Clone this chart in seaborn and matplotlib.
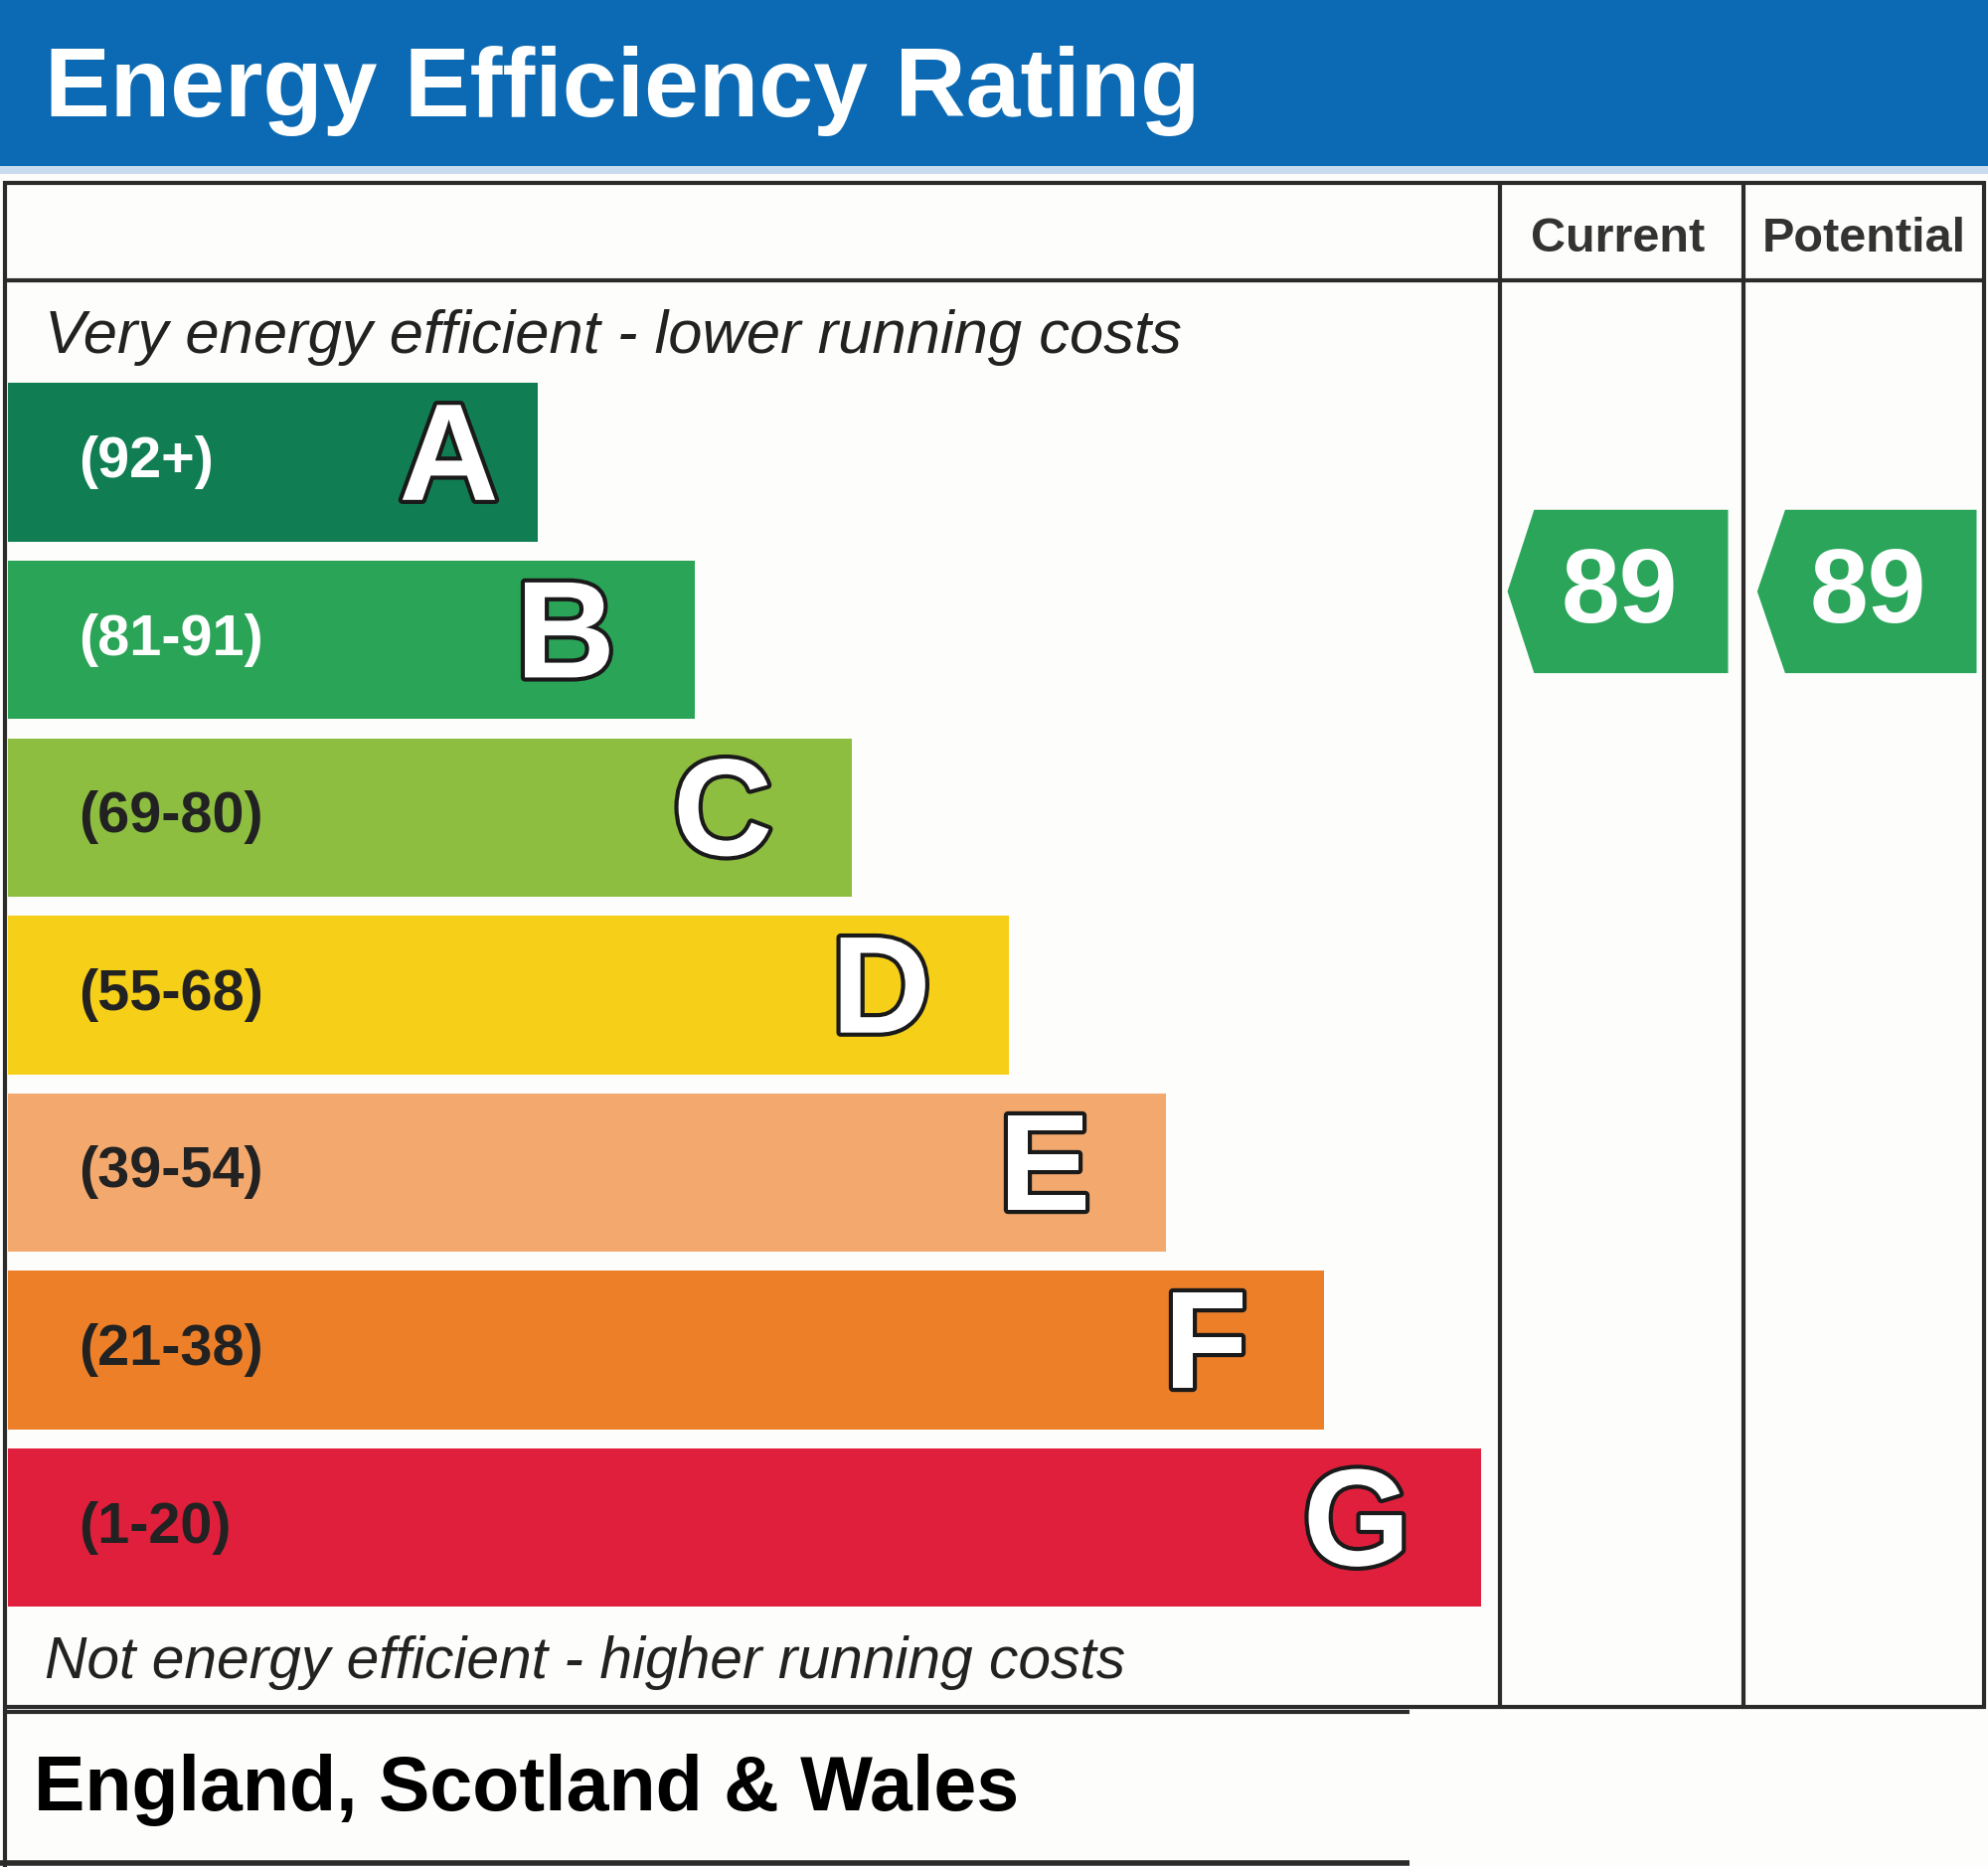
import pandas as pd
import matplotlib.pyplot as plt
import matplotlib.patheffects as pe
from matplotlib.patches import Rectangle, Polygon
import seaborn as sns

sns.set_style("white")
plt.rcParams['font.family'] = ['Liberation Sans', 'DejaVu Sans']

# Datos del certificado
bands = ["A", "B", "C", "D", "E", "F", "G"]
band_labels = ["(92+)", "(81-91)", "(69-80)", "(55-68)", "(39-54)", "(21-38)", "(1-20)"]
band_lows = [92, 81, 69, 55, 39, 21, 1]
band_highs = [100, 91, 80, 68, 54, 38, 20]
band_colors = ["#107e52", "#2aa456", "#8dbe40", "#f6cf18", "#f3a86d", "#ec7f28", "#e01f3c"]
score_columns = ["Current", "Potential"]
scores = [89, 89]

# Medidas del lienzo (en px de referencia 1568 x 1472)
W, H = 1568, 1472
X0 = 6
BAR_FIRST, BAR_STEP = 418, 124
Y_TOP, Y_BOT = 294.5, 1274.5
LINE = "#2b2b2b"
LW = 3


def score_y(score):
    # posición continua dentro de la banda
    for i, (lo, hi) in enumerate(zip(band_lows, band_highs)):
        if lo <= score <= hi:
            mid = (lo + hi) / 2
            return i - (score - mid) / (hi - lo + 1)
    return len(bands) - 1


fig = plt.figure(figsize=(20, 18.78), dpi=100)
fig.patch.set_facecolor("#fdfdfb")

# Marco y textos
frame = fig.add_axes([0, 0, 1, 1], zorder=0)
frame.set_xlim(0, W)
frame.set_ylim(H, 0)
frame.axis("off")
frame.add_patch(Rectangle((0, 0), W, 131, color="#0b6ab3", lw=0))
frame.add_patch(Rectangle((0, 131), W, 6, color="#c9dcef", lw=0))
frame.text(35, 92, "Energy Efficiency Rating", color="white", fontsize=71,
           fontweight="bold", ha="left", va="baseline")

for y in [144, 221, 1346]:
    frame.plot([3, 1566], [y, y], color=LINE, lw=LW, solid_capstyle="butt")
frame.plot([3, 1112], [1350, 1350], color=LINE, lw=LW, solid_capstyle="butt")
frame.plot([0, 1112], [1469, 1469], color=LINE, lw=LW + 1, solid_capstyle="butt")
frame.plot([4, 4], [143, 1472], color=LINE, lw=LW, solid_capstyle="butt")
for x in [1183, 1375, 1565]:
    frame.plot([x, x], [143, 1347], color=LINE, lw=LW, solid_capstyle="butt")

frame.text(1276, 198, score_columns[0], color="#333333", fontsize=35,
           fontweight="bold", ha="center", va="baseline")
frame.text(1470, 198, score_columns[1], color="#333333", fontsize=35,
           fontweight="bold", ha="center", va="baseline")

frame.text(35, 278, "Very energy efficient - lower running costs", color="#222222",
           fontsize=44.3, fontstyle="italic", ha="left", va="baseline")
frame.text(35, 1323, "Not energy efficient - higher running costs", color="#222222",
           fontsize=42.3, fontstyle="italic", ha="left", va="baseline")
frame.text(27, 1427, "England, Scotland & Wales", color="black", fontsize=55.5,
           fontweight="bold", ha="left", va="baseline")

# Barras de bandas
ax = fig.add_axes([0, 1 - Y_BOT / H, 1, (Y_BOT - Y_TOP) / H], zorder=1)
ax.patch.set_alpha(0)
df = pd.DataFrame({
    "band": bands,
    "length": [BAR_FIRST + BAR_STEP * i for i in range(len(bands))],
})
sns.barplot(data=df, x="length", y="band", hue="band", palette=band_colors,
            orient="h", width=0.893, saturation=1, legend=False,
            linewidth=0, ax=ax)
ax.set_xlim(-X0, W - X0)
ax.set_ylim(len(bands) - 0.5, -0.5)
ax.axis("off")

outline = [pe.withStroke(linewidth=6, foreground="#1a1a1a")]
letter_inset = {"A": 70, "B": 102, "C": 102, "D": 101, "E": 96, "F": 93, "G": 98}
for i, (b, lab) in enumerate(zip(bands, band_labels)):
    end = df["length"][i]
    txt_color = "white" if i < 2 else "#222222"
    ax.text(56, i, lab, color=txt_color, fontsize=41.5, fontweight="bold",
            ha="left", va="center")
    ax.text(end - letter_inset[b], i + 0.01, b, color="white", fontsize=100,
            fontweight="bold", ha="center", va="center", path_effects=outline)

# Flechas de puntuación
arrow_h = 0.46
for (left, tip, right), val in zip([(1204, 1183, 1357), (1402, 1380, 1553)], scores):
    yc = score_y(val)
    pts = [(tip, yc), (left, yc - arrow_h), (right, yc - arrow_h),
           (right, yc + arrow_h), (left, yc + arrow_h)]
    ax.add_patch(Polygon(pts, closed=True, color="#2aa55a", lw=0))
    ax.text((tip + right) / 2 + 1, yc + 0.02, str(val), color="white", fontsize=76,
            fontweight="bold", ha="center", va="center")

fig.savefig("out.png", dpi=100)
plt.close(fig)
